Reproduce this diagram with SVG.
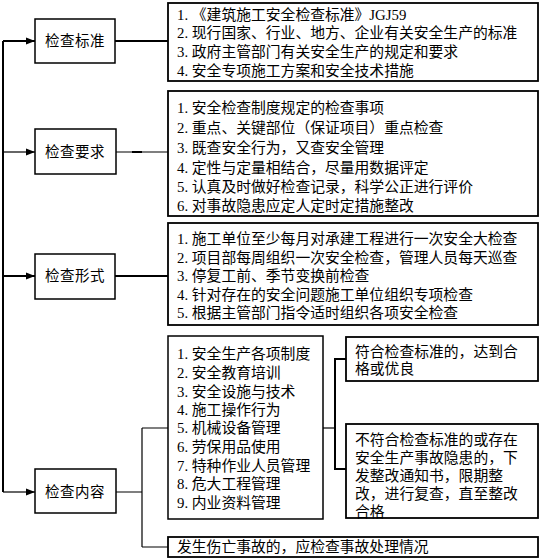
<svg xmlns="http://www.w3.org/2000/svg" width="541" height="560" viewBox="0 0 541 560">
<defs>
<style>
.box{fill:#fff;stroke:#000;stroke-width:1.5}
.tbox{fill:#fff;stroke:#000;stroke-width:1.8}
.t{font-family:"Liberation Serif","Noto Sans CJK SC",serif;font-size:14.8px;fill:#000}
.lbl{font-family:"Liberation Serif","Noto Sans CJK SC",serif;font-size:14.5px;fill:#000;text-anchor:middle;letter-spacing:0.5px}
.c{fill:none;stroke:#000;stroke-width:1.2}
.ct{fill:none;stroke:#000;stroke-width:2}
</style>
<marker id="arr" markerWidth="10" markerHeight="8" refX="9" refY="4" orient="auto" markerUnits="userSpaceOnUse">
<path d="M0,0.5 L9,4 L0,7.5 z" fill="#000"/>
</marker>
</defs>

<g id="connectors">
<path class="ct" d="M3,41 V492"/>
<path class="ct" d="M3,41 H35" marker-end="url(#arr)"/>
<path class="c" d="M3,152 H35" marker-end="url(#arr)"/>
<path class="ct" d="M3,276 H35" marker-end="url(#arr)"/>
<path class="c" d="M3,492 H35" marker-end="url(#arr)"/>
<path class="ct" d="M115,41 H168"/>
<path class="c" d="M116,152 H168"/>
<path class="ct" d="M132,152 H142"/>
<path class="ct" d="M115,276 H168"/>
<path class="c" d="M116,492 H142 M142,428 V547 M142,428 H168 M142,547 H168"/>
<path class="c" d="M323,428 H335"/>
<path class="ct" d="M346,359 H335 V469 H346"/>
</g>

<g id="node-standard">
<rect class="box" x="35" y="19" width="80" height="44"/>
<text class="lbl" x="75" y="46">检查标准</text>
</g>
<g id="node-standard-detail">
<rect class="tbox" x="168" y="3" width="370" height="78"/>
<text class="t" x="177" y="20">1. 《建筑施工安全检查标准》JGJ59</text>
<text class="t" x="177" y="38">2. 现行国家、行业、地方、企业有关安全生产的标准</text>
<text class="t" x="177" y="57">3. 政府主管部门有关安全生产的规定和要求</text>
<text class="t" x="177" y="76">4. 安全专项施工方案和安全技术措施</text>
</g>

<g id="node-requirement">
<rect class="box" x="35" y="129" width="81" height="45"/>
<text class="lbl" x="75" y="157">检查要求</text>
</g>
<g id="node-requirement-detail">
<rect class="tbox" x="168" y="91" width="370" height="125"/>
<text class="t" x="177" y="113">1. 安全检查制度规定的检查事项</text>
<text class="t" x="177" y="133">2. 重点、关键部位（保证项目）重点检查</text>
<text class="t" x="177" y="153">3. 既查安全行为，又查安全管理</text>
<text class="t" x="177" y="173">4. 定性与定量相结合，尽量用数据评定</text>
<text class="t" x="177" y="192">5. 认真及时做好检查记录，科学公正进行评价</text>
<text class="t" x="177" y="211">6. 对事故隐患应定人定时定措施整改</text>
</g>

<g id="node-form">
<rect class="box" x="35" y="254" width="80" height="45"/>
<text class="lbl" x="75" y="281">检查形式</text>
</g>
<g id="node-form-detail">
<rect class="tbox" x="168" y="223" width="370" height="102"/>
<text class="t" x="177" y="244">1. 施工单位至少每月对承建工程进行一次安全大检查</text>
<text class="t" x="177" y="263">2. 项目部每周组织一次安全检查，管理人员每天巡查</text>
<text class="t" x="177" y="281">3. 停复工前、季节变换前检查</text>
<text class="t" x="177" y="300">4. 针对存在的安全问题施工单位组织专项检查</text>
<text class="t" x="177" y="318">5. 根据主管部门指令适时组织各项安全检查</text>
</g>

<g id="node-content">
<rect class="box" x="35" y="469" width="81" height="44"/>
<text class="lbl" x="75" y="497">检查内容</text>
</g>
<g id="node-content-list">
<rect class="box" x="168" y="336" width="155" height="183"/>
<text class="t" x="177" y="359">1. 安全生产各项制度</text>
<text class="t" x="177" y="378">2. 安全教育培训</text>
<text class="t" x="177" y="397">3. 安全设施与技术</text>
<text class="t" x="177" y="415">4. 施工操作行为</text>
<text class="t" x="177" y="433">5. 机械设备管理</text>
<text class="t" x="177" y="452">6. 劳保用品使用</text>
<text class="t" x="177" y="471">7. 特种作业人员管理</text>
<text class="t" x="177" y="489">8. 危大工程管理</text>
<text class="t" x="177" y="508">9. 内业资料管理</text>
</g>

<g id="node-pass">
<rect class="tbox" x="346" y="337" width="192" height="44"/>
<text class="t" x="355" y="357">符合检查标准的，达到合</text>
<text class="t" x="355" y="374">格或优良</text>
</g>
<g id="node-fail">
<rect class="tbox" x="346" y="424" width="192" height="94"/>
<text class="t" x="355" y="445">不符合检查标准的或存在</text>
<text class="t" x="355" y="463">安全生产事故隐患的，下</text>
<text class="t" x="355" y="481">发整改通知书，限期整</text>
<text class="t" x="355" y="499">改，进行复查，直至整改</text>
<text class="t" x="355" y="517">合格</text>
</g>

<g id="node-accident">
<rect class="tbox" x="168" y="537" width="370" height="20"/>
<text class="t" x="177" y="552">发生伤亡事故的，应检查事故处理情况</text>
</g>
</svg>
